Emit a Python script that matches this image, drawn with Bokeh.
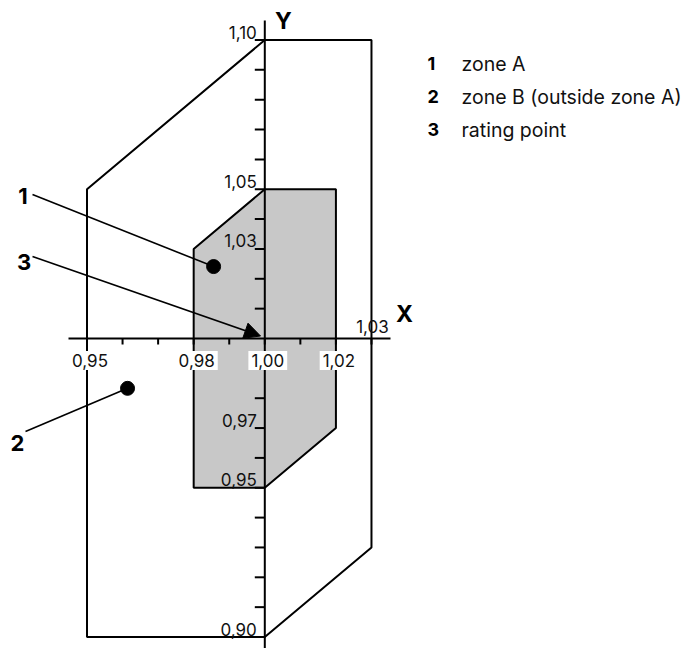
from bokeh.plotting import figure
from bokeh.models import Range1d, Arrow, NormalHead
from bokeh.core.properties import value
from bokeh.embed import file_html
from bokeh.resources import INLINE

# ---------------- data ----------------
zone_a_x = [0.98, 1.00, 1.02, 1.02, 1.00, 0.98]
zone_a_y = [1.03, 1.05, 1.05, 0.97, 0.95, 0.95]
zone_b_x = [0.95, 1.00, 1.03, 1.03, 1.00, 0.95]
zone_b_y = [1.05, 1.10, 1.10, 0.93, 0.90, 0.90]

x_ticks = [0.95, 0.96, 0.97, 0.98, 0.99, 1.00, 1.01, 1.02, 1.03]
x_label_values = [0.95, 0.98, 1.00, 1.02]
x_label_texts = ["0,95", "0,98", "1,00", "1,02"]
x_top_value = [1.03]
x_top_text = ["1,03"]

y_ticks = [0.90, 0.91, 0.92, 0.93, 0.94, 0.95, 0.96, 0.97, 0.98, 0.99,
           1.01, 1.02, 1.03, 1.04, 1.05, 1.06, 1.07, 1.08, 1.09, 1.10]
y_label_values = [1.10, 1.05, 1.03, 0.97, 0.95, 0.90]
y_label_texts = ["1,10", "1,05", "1,03", "0,97", "0,95", "0,90"]

origin = (1.00, 1.00)           # rating point
point_zone_a = (0.9856, 1.0241)
point_zone_b = (0.9614, 0.9833)

callout_ids = ["1", "2", "3"]
legend_texts = ["zone A", "zone B (outside zone A)", "rating point"]

# ---------------- layout ----------------
W, H = 693, 648
PX_X = 3556.0   # px per unit
PX_Y = 2985.0
x0 = 0.95 - 86.5 / PX_X
y1 = 1.00 + 338 / PX_Y
p = figure(width=W, height=H, output_backend="svg", toolbar_location=None,
           x_range=Range1d(x0, x0 + W / PX_X), y_range=Range1d(y1 - H / PX_Y, y1),
           x_axis_location=None, y_axis_location=None, min_border=0)
p.grid.visible = False
p.outline_line_color = None
p.background_fill_color = "white"

FONT = value("Inter")
TICK_COLOR = "#111111"

def sx(px):
    return 1.00 + (px - 264.3) / PX_X

def sy(py):
    return 1.00 + (338 - py) / PX_Y

# zones
p.patch(zone_b_x, zone_b_y, fill_color=None, line_color="black", line_width=2)
p.patch(zone_a_x, zone_a_y, fill_color="#c8c8c8", line_color="black", line_width=2)

# axes
p.segment(x0=[sx(68)], y0=[origin[1]], x1=[sx(390)], y1=[origin[1]], line_color="black", line_width=2)
p.segment(x0=[origin[0]], y0=[sy(20)], x1=[origin[0]], y1=[sy(660)], line_color="black", line_width=2)

# ticks
tx = 6 / PX_Y
p.segment(x0=x_ticks, y0=[origin[1]] * len(x_ticks), x1=x_ticks,
          y1=[origin[1] - tx] * len(x_ticks), line_color="black", line_width=2)
ty = 10 / PX_X
p.segment(x0=[origin[0] - ty] * len(y_ticks), y0=y_ticks, x1=[origin[0]] * len(y_ticks),
          y1=y_ticks, line_color="black", line_width=2)

# callout leader lines
p.segment(x0=[sx(32), sx(25)], y0=[sy(194), sy(431)],
          x1=[point_zone_a[0], point_zone_b[0]], y1=[point_zone_a[1], point_zone_b[1]],
          line_color="black", line_width=1.6)
p.add_layout(Arrow(end=NormalHead(size=16, fill_color="black", line_color="black", line_width=1),
                   x_start=sx(32), y_start=sy(256), x_end=sx(260), y_end=sy(335.5),
                   line_color="black", line_width=1.6))

# dots
p.scatter([point_zone_a[0], point_zone_b[0]], [point_zone_a[1], point_zone_b[1]],
          size=14, color="black")

# tick labels
p.text(x=x_label_values, y=[origin[1]] * len(x_label_values), text=x_label_texts,
       text_font=FONT, text_font_size="17px", text_color=TICK_COLOR,
       text_align="center", text_baseline="middle", x_offset=3, y_offset=22,
       background_fill_color="white", padding=3)
p.text(x=x_top_value, y=[origin[1]], text=x_top_text, text_font=FONT, text_font_size="17px",
       text_color=TICK_COLOR, text_align="center", text_baseline="alphabetic", x_offset=1, y_offset=-12)
p.text(x=[origin[0]] * len(y_label_values), y=y_label_values, text=y_label_texts,
       text_font=FONT, text_font_size="17px", text_color=TICK_COLOR,
       text_align="right", text_baseline="alphabetic", x_offset=-8, y_offset=-8)

# axis names
p.text(x=[sx(404)], y=[sy(313)], text=["X"], text_font=FONT, text_font_size="23px",
       text_font_style="bold", text_align="center", text_baseline="middle", text_color="black")
p.text(x=[sx(283)], y=[sy(20)], text=["Y"], text_font=FONT, text_font_size="23px",
       text_font_style="bold", text_align="center", text_baseline="middle", text_color="black")

# callout numbers
p.text(x=[sx(22.5), sx(17), sx(23.5)], y=[sy(195), sy(442), sy(261)], text=callout_ids,
       text_font=FONT, text_font_size="22px", text_font_style="bold",
       text_align="center", text_baseline="middle", text_color="black")

# legend (key)
rows = [sy(63), sy(96), sy(129)]
p.text(x=[sx(427)] * 3, y=rows, text=callout_ids, text_font=FONT, text_font_size="18px",
       text_font_style="bold", text_align="left", text_baseline="middle", text_color="black")
p.text(x=[sx(461)] * 3, y=rows, text=legend_texts, text_font=FONT, text_font_size="19.5px",
       text_align="left", text_baseline="middle", text_color="#111111")

open("out.html", "w").write(file_html(p, INLINE))
